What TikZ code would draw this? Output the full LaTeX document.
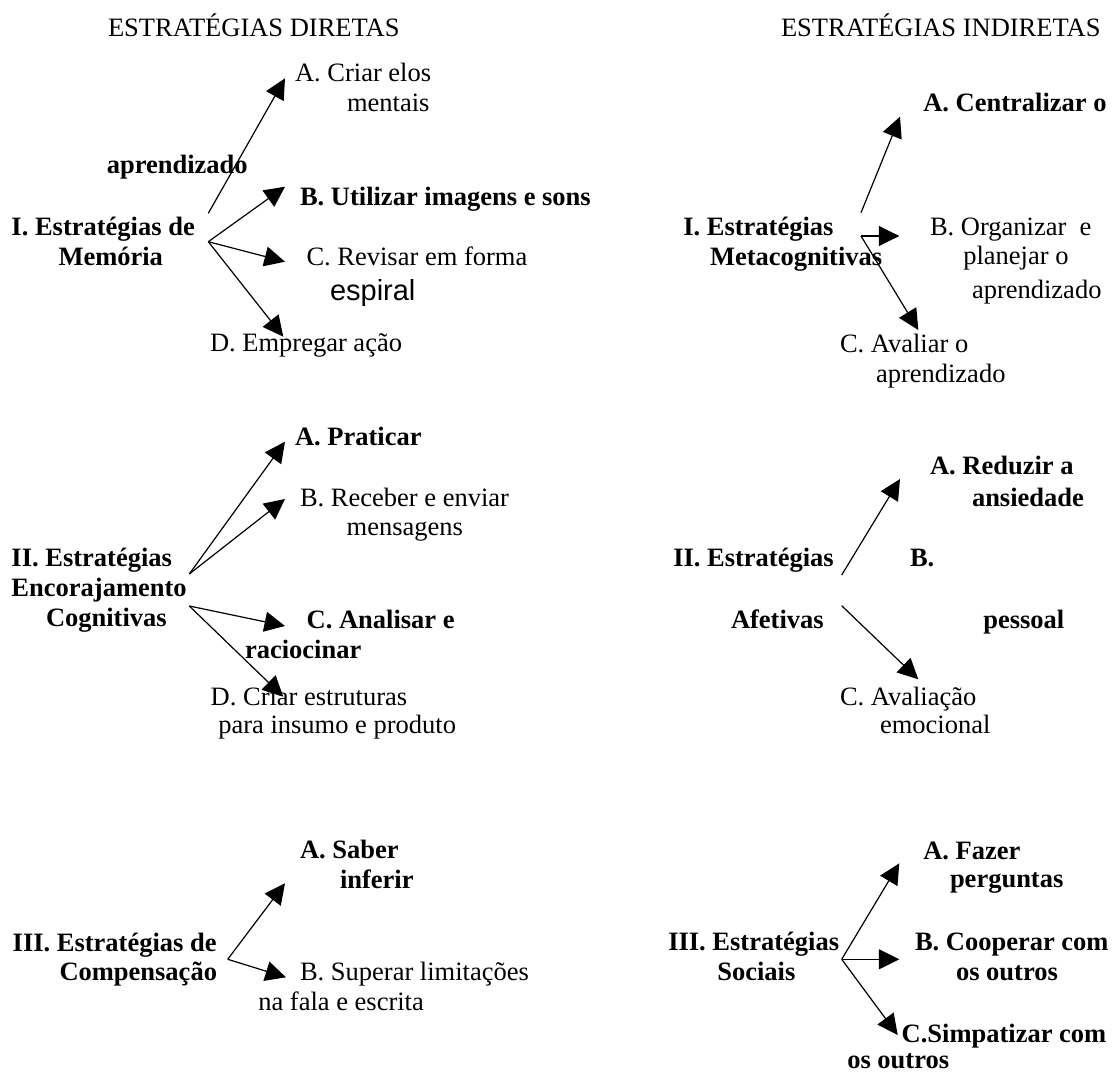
\documentclass[tikz,border=0pt]{standalone}
\usepackage{fontspec}
\setmainfont{Liberation Serif}
\newfontfamily\sansfam{Liberation Sans}
\usetikzlibrary{arrows.meta}

\tikzset{
  txt/.style={anchor=base west, inner sep=0pt, outer sep=0pt,
    font=\fontsize{26.5}{30}\selectfont},
  btxt/.style={txt, font=\fontsize{26.5}{30}\selectfont\bfseries},
  stxt/.style={anchor=base west, inner sep=0pt, outer sep=0pt,
    font=\sansfam\fontsize{29}{32}\selectfont},
  arr/.style={-{Triangle[length=20.5pt,width=20pt]}, line width=1.2pt, black},
}

\begin{document}
\begin{tikzpicture}[x=1pt, y=-1pt]
\useasboundingbox (0,0) rectangle (1112,1074);

% ---------- column headings ----------
\node[txt] (hdir) at (108,36.7) {ESTRATÉGIAS DIRETAS};
\node[txt] (hind) at (781,36.7) {ESTRATÉGIAS INDIRETAS};

% ---------- I. memory strategies ----------
\node[btxt] (mem1) at (11.5,235) {I. Estratégias de};
\node[btxt] (mem2) at (58.5,265) {Memória};
\node[txt]  (memA1) at (295,81.7) {A. Criar elos};
\node[txt]  (memA2) at (347,111.7) {mentais};
\node[btxt] (memApr) at (106.8,173.5) {aprendizado};
\node[btxt] (memB) at (300,205) {B. Utilizar imagens e sons};
\node[txt]  (memC1) at (306.5,265) {C. Revisar em forma};
\node[stxt] (memC2) at (330,300) {espiral};
\node[txt]  (memD) at (210,351.7) {D. Empregar ação};

\coordinate (memOA) at (208.3,213.3);
\coordinate (memO)  at (208.3,241.7);
\coordinate (memTA) at (285,78.3);
\coordinate (memTB) at (285,186.7);
\coordinate (memTC) at (285,261.7);
\coordinate (memTD) at (283.3,336.7);
\draw[arr] (memOA) -- (memTA);
\draw[arr] (memO) -- (memTB);
\draw[arr] (memO) -- (memTC);
\draw[arr] (memO) -- (memTD);

% ---------- II. cognitive strategies ----------
\node[btxt] (cog1) at (11.5,566.7) {II. Estratégias};
\node[btxt] (cog2) at (11.5,596.7) {Encorajamento};
\node[btxt] (cog3) at (46,626.7) {Cognitivas};
\node[btxt] (cogA) at (295,445) {A. Praticar};
\node[txt]  (cogB1) at (300,506) {B. Receber e enviar};
\node[txt]  (cogB2) at (346.7,535) {mensagens};
\node[btxt] (cogC1) at (306.7,628.3) {C. Analisar e};
\node[btxt] (cogC2) at (245,658.3) {raciocinar};
\node[txt]  (cogD1) at (210.7,705) {D. Criar estruturas};
\node[txt]  (cogD2) at (218.3,733.3) {para insumo e produto};

\coordinate (cogOU) at (189.3,574);
\coordinate (cogOL) at (189.3,606);
\coordinate (cogTA) at (285,441.7);
\coordinate (cogTB) at (285,499);
\coordinate (cogTC) at (285,626);
\coordinate (cogTD) at (283.3,696.7);
\draw[arr] (cogOU) -- (cogTA);
\draw[arr] (cogOU) -- (cogTB);
\draw[arr] (cogOL) -- (cogTC);
\draw[arr] (cogOL) -- (cogTD);

% ---------- III. compensation strategies ----------
\node[btxt] (comp1) at (12.7,951) {III. Estratégias de};
\node[btxt] (comp2) at (59.5,980) {Compensação};
\node[btxt] (compA1) at (300,858.3) {A. Saber};
\node[btxt] (compA2) at (340,888.3) {inferir};
\node[txt]  (compB1) at (300,980) {B. Superar limitações};
\node[txt]  (compB2) at (258.3,1010) {na fala e escrita};

\coordinate (compO)  at (227.7,959.3);
\coordinate (compTA) at (285,883.3);
\coordinate (compTB) at (286,977.3);
\draw[arr] (compO) -- (compTA);
\draw[arr] (compO) -- (compTB);

% ---------- I. metacognitive strategies ----------
\node[btxt] (meta1) at (683.3,235) {I. Estratégias};
\node[btxt] (meta2) at (710,265) {Metacognitivas};
\node[btxt] (metaA) at (923.3,111.7) {A. Centralizar o};
\node[txt]  (metaB1) at (930,235) {B. Organizar\ \ e};
\node[txt]  (metaB2) at (963.3,264) {planejar o};
\node[txt]  (metaB3) at (972,298) {aprendizado};
\node[txt]  (metaC1) at (840,352) {C. Avaliar o};
\node[txt]  (metaC2) at (876,382) {aprendizado};

\coordinate (metaOA) at (861,212.7);
\coordinate (metaO)  at (861,236);
\coordinate (metaTA) at (900,116.7);
\coordinate (metaTB) at (899.3,236);
\coordinate (metaTC) at (918.3,330);
\draw[arr] (metaOA) -- (metaTA);
\draw[arr] (metaO) -- (metaTB);
\draw[arr] (metaO) -- (metaTC);

% ---------- II. affective strategies ----------
\node[btxt] (afe1) at (673.3,566.7) {II. Estratégias};
\node[btxt] (afe2) at (731,628.3) {Afetivas};
\node[btxt] (afeA1) at (930,474) {A. Reduzir a};
\node[btxt] (afeA2) at (972,506) {ansiedade};
\node[btxt] (afeB1) at (910,566.7) {B.};
\node[btxt] (afeB2) at (983.3,628.3) {pessoal};
\node[txt]  (afeC1) at (840,705) {C. Avaliação};
\node[txt]  (afeC2) at (880,733.3) {emocional};

\coordinate (afeOA) at (841.7,575);
\coordinate (afeOC) at (841.7,605.7);
\coordinate (afeTA) at (900,479);
\coordinate (afeTC) at (918.3,679.3);
\draw[arr] (afeOA) -- (afeTA);
\draw[arr] (afeOC) -- (afeTC);

% ---------- III. social strategies ----------
\node[btxt] (soc1) at (668.3,950.7) {III. Estratégias};
\node[btxt] (soc2) at (717.3,980) {Sociais};
\node[btxt] (socA1) at (923.3,859.3) {A. Fazer};
\node[btxt] (socA2) at (950,887.3) {perguntas};
\node[btxt] (socB1) at (915,950.7) {B. Cooperar com};
\node[btxt] (socB2) at (956,980) {os outros};
\node[btxt] (socC1) at (901.7,1042.7) {C.Simpatizar com};
\node[btxt] (socC2) at (847.3,1068) {os outros};

\coordinate (socO)  at (841.7,959.3);
\coordinate (socTA) at (899.3,863.3);
\coordinate (socTB) at (899.3,959.3);
\coordinate (socTC) at (897.7,1035);
\draw[arr] (socO) -- (socTA);
\draw[arr] (socO) -- (socTB);
\draw[arr] (socO) -- (socTC);
\end{tikzpicture}
\end{document}
